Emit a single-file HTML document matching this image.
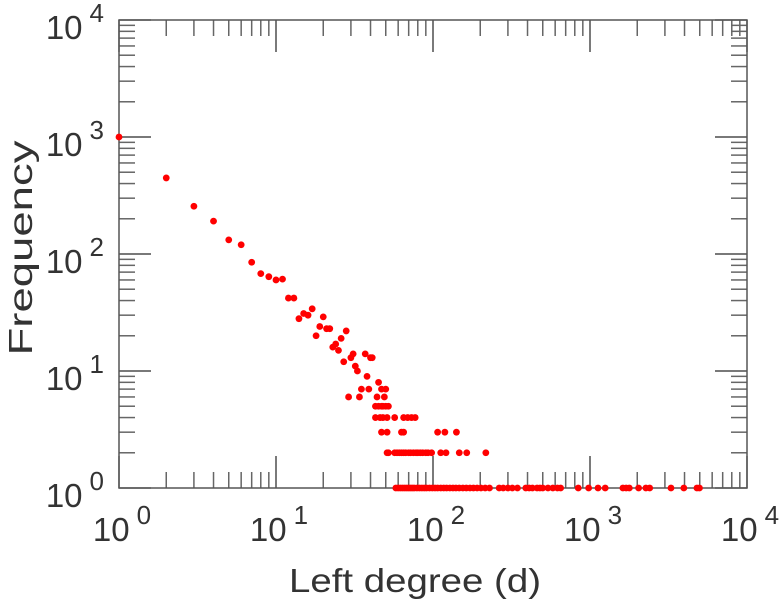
<!DOCTYPE html>
<html><head><meta charset="utf-8"><style>
html,body{margin:0;padding:0;background:#fff;}
svg text{font-family:"Liberation Sans",sans-serif;fill:#333;}
</style></head><body>
<svg id="chart" width="779" height="600" viewBox="0 0 779 600" xmlns="http://www.w3.org/2000/svg">
<g id="ticks"></g>
<rect x="119" y="20" width="628" height="468" fill="none" stroke="#555" stroke-width="1.5"/>
<g id="pts"></g>
<g id="labels"></g>
<text x="289" y="592" font-size="33" textLength="252" lengthAdjust="spacingAndGlyphs">Left degree (d)</text>
<text x="0" y="0" font-size="33" text-anchor="middle" textLength="215" lengthAdjust="spacingAndGlyphs" transform="translate(32,248) rotate(-90)">Frequency</text>
</svg>
<script>
const xDecades=[0,1,2,3,4];
const yDecades=[0,1,2,3,4];
const degrees=[1,2,3,4,5,6,7,8,9,10,11,12,13,14,15,16,17,18,19,20,21,22,23,24,25,26,27,28,29,30,31,32,33,34,35,37,38,39,40,41,43,43,44,45,45,46,47,47,48,49,50,51,51,52,47,50,52,48,57,65,69,73,77,51,63,65,107,119,141,57,59,61,63,65,67,70,72,75,78,80,83,86,90,93,98,112,121,147,164,217];
const freqs=[1000,447,256,191,132,120,85,68,64,60,61,42,42,28,31,30,34,20,24,29,23,23,16,17,15,19,12,22,6,13,14,11,10,6,7,14,9,7,13,13,5,4,6,8,5,4,7,3,5,6,7,4,2,2,5,5,5,4,4,4,4,4,4,3,3,3,3,3,3,2,2,2,2,2,2,2,2,2,2,2,2,2,2,2,2,2,2,2,2,2];
const onesDegrees=[58,60,62,64,66,68,70,72,74,76,79,82,85,88,91,95,99,103,107,112,117,122,128,134,140,147,155,163,172,181,191,202,215,229,264,280,300,320,345,390,410,430,460,480,500,540,580,620,650,842,980,1125,1250,1620,1700,1780,2040,2270,2400,3280,3960,4800,4980];
const X0=119,X1=747,Y0=488,Y1=20;
const xs=d=>X0+(Math.log10(d)-0)/4*(X1-X0);
const ys=f=>Y0-(Math.log10(f)-0)/4*(Y0-Y1);
const NS="http://www.w3.org/2000/svg";
const tk=document.getElementById('ticks'),lb=document.getElementById('labels'),pg=document.getElementById('pts');
function line(x1,y1,x2,y2){const l=document.createElementNS(NS,'line');l.setAttribute('x1',x1);l.setAttribute('y1',y1);l.setAttribute('x2',x2);l.setAttribute('y2',y2);l.setAttribute('stroke','#666');l.setAttribute('stroke-width','1.5');


tk.appendChild(l);}
for(let e=0;e<4;e++){for(let m=1;m<=10;m++){const v=m*Math.pow(10,e);const len=(m===1||m===10)?32:16;
const x=xs(v);line(x,Y0,x,Y0-len);line(x,Y1,x,Y1+len);
const y=ys(v);line(X0,y,X0+len,y);line(X1,y,X1-len,y);}}
function lab(x,y,e,anchor){const t=document.createElementNS(NS,'text');t.setAttribute('x',x);t.setAttribute('y',y);t.setAttribute('font-size','33');t.setAttribute('text-anchor',anchor);


t.innerHTML='10<tspan dx="7" dy="-17" font-size="26">'+e+'</tspan>';lb.appendChild(t);}
xDecades.forEach(e=>lab(xs(Math.pow(10,e))+3,541,e,'middle'));
yDecades.forEach(e=>lab(104,ys(Math.pow(10,e))+19,e,'end'));
function dot(d,f){const c=document.createElementNS(NS,'circle');c.setAttribute('cx',xs(d));c.setAttribute('cy',ys(f));c.setAttribute('r','3.4');c.setAttribute('fill','#f00');


pg.appendChild(c);}
degrees.forEach((d,i)=>dot(d,freqs[i]));
onesDegrees.forEach(d=>dot(d,1));
</script>
</body></html>
